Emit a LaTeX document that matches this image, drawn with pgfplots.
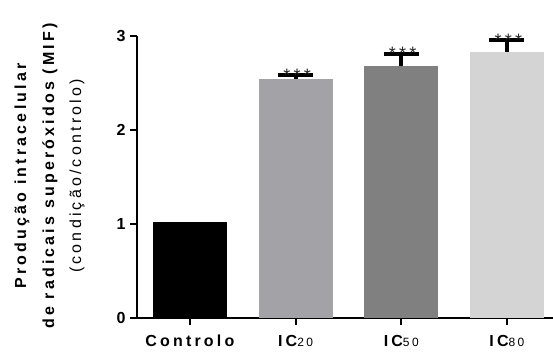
\documentclass[border=0pt]{standalone}
\usepackage{fontspec}
\setmainfont{Liberation Sans}
\newfontfamily\spfont[LetterSpace=20]{Liberation Sans}
\newfontfamily\spfontb[LetterSpace=20]{Liberation Sans}
\newfontfamily\stfont[LetterSpace=18]{Liberation Sans}
\usepackage{pgfplots}
\pgfplotsset{compat=1.18}
\definecolor{barB}{HTML}{A3A3A7}
\definecolor{barC}{HTML}{808080}
\definecolor{barD}{HTML}{D4D4D4}
\newcommand{\fs}{\fontsize{16}{18}\selectfont}
\newcommand{\sub}[1]{{\mdseries\fontsize{12}{14}\selectfont #1}}
\begin{document}
\begin{tikzpicture}
\begin{axis}[
  at={(137pt,33pt)}, anchor=south west,
  scale only axis, width=416pt, height=282pt,
  xmin=-0.5, xmax=3.436, ymin=0, ymax=3,
  clip=false,
  axis x line*=bottom, axis y line*=left,
  axis line style={line width=2pt, -},
  xtick={0,1,2,3},
  xticklabels={Controlo, IC\sub{20}, IC\sub{50}, IC\sub{80}},
  ytick={0,1,2,3},
  tick align=outside, major tick length=7pt,
  tick style={line width=2pt, black},
  /pgf/number format/assume math mode=true,
  yticklabel style={font=\fs\bfseries, xshift=-1pt},
  xticklabel style={font=\fs\spfont\bfseries, anchor=base, yshift=-21pt},
]
\addplot[ybar, bar width=74pt, bar shift=0pt, fill=black, draw=none] coordinates {(0,1.02)};
\addplot[ybar, bar width=74pt, bar shift=0pt, fill=barB, draw=none,
  error bars/.cd, y dir=plus, y explicit,
  error bar style={draw=black, line width=4pt},
  error mark options={rotate=90, draw=black, line width=4pt, mark size=17.5pt}]
  coordinates {(1,2.54) +- (0,0.045)};
\addplot[ybar, bar width=74pt, bar shift=0pt, fill=barC, draw=none,
  error bars/.cd, y dir=plus, y explicit,
  error bar style={draw=black, line width=4pt},
  error mark options={rotate=90, draw=black, line width=4pt, mark size=17.5pt}]
  coordinates {(2,2.68) +- (0,0.132)};
\addplot[ybar, bar width=74pt, bar shift=0pt, fill=barD, draw=none,
  error bars/.cd, y dir=plus, y explicit,
  error bar style={draw=black, line width=4pt},
  error mark options={rotate=90, draw=black, line width=4pt, mark size=17.5pt}]
  coordinates {(3,2.83) +- (0,0.127)};
\addplot[draw=none, mark=none, nodes near coords={\stfont ***},
  every node near coord/.style={font=\fontsize{18}{20}\selectfont, text=black!85, anchor=base, inner sep=0pt, yshift=-8pt, xshift=1.5pt}]
  coordinates {(1,2.606) (2,2.833) (3,2.978)};
\end{axis}
\node[rotate=90, anchor=base, font=\fs\spfont\bfseries] at (26pt,175pt) {Produção intracelular};
\node[rotate=90, anchor=base, font=\fs\spfont\bfseries] at (54pt,175pt) {de radicais superóxidos (MIF)};
\node[rotate=90, anchor=base, font=\fs\spfontb] at (81pt,175pt) {(condição/controlo)};
\pgfresetboundingbox
\useasboundingbox (0,0) rectangle (553pt,351pt);
\end{tikzpicture}
\end{document}
